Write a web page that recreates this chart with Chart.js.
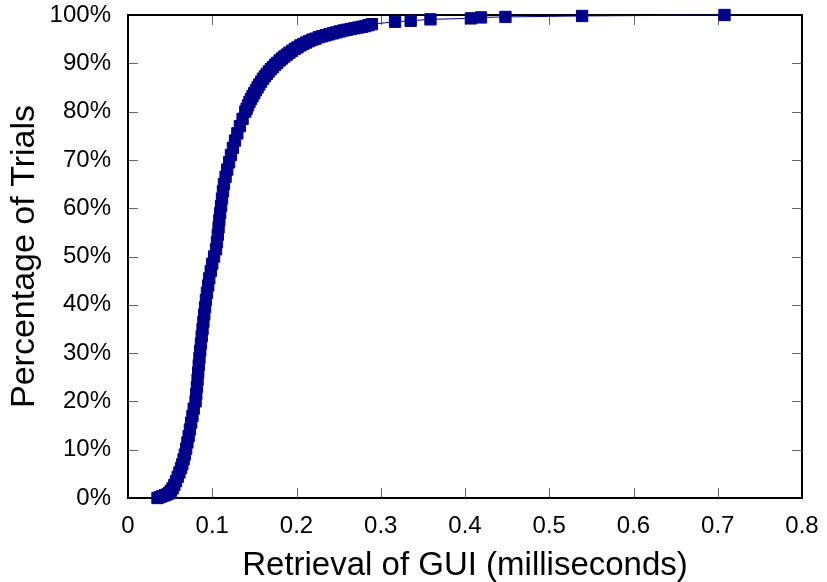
<!DOCTYPE html>
<html>
<head>
<meta charset="utf-8">
<script src="https://cdn.jsdelivr.net/npm/chart.js@4.4.1/dist/chart.umd.min.js"></script>
<style>
  html, body { margin: 0; padding: 0; background: #fff; }
  #wrap { width: 827px; height: 582px; }
</style>
</head>
<body>
<div id="wrap"><canvas id="cdf" width="827" height="582"></canvas></div>
<script>
// Retrieval time in ms (x) and cumulative percentage of trials (y)
const retrievalMs = [
  0.035, 0.038, 0.041, 0.044, 0.047, 0.049, 0.051, 0.053, 0.055, 0.057,
  0.059, 0.061, 0.063, 0.0645, 0.066, 0.0675, 0.069, 0.0705, 0.072, 0.0735,
  0.075, 0.0765, 0.078, 0.0802, 0.081, 0.0818, 0.0826, 0.0833, 0.084, 0.0848,
  0.0857, 0.0866, 0.0875, 0.0885, 0.0895, 0.0905, 0.0915, 0.0925, 0.0937, 0.0952,
  0.0965, 0.0982, 0.1, 0.1022, 0.1045, 0.1056, 0.1066, 0.1075, 0.1084, 0.1094,
  0.1105, 0.1116, 0.1127, 0.1139, 0.1158, 0.1178, 0.12, 0.1222, 0.1245, 0.127,
  0.1298, 0.1328, 0.136, 0.1392, 0.1408, 0.1425, 0.1442, 0.146, 0.1478, 0.1498,
  0.1518, 0.1538, 0.1558, 0.158, 0.1602, 0.1625, 0.1648, 0.1672, 0.1696, 0.172,
  0.1746, 0.1772, 0.18, 0.1828, 0.1856, 0.1886, 0.1916, 0.1948, 0.198, 0.2012,
  0.2046, 0.208, 0.2115, 0.215, 0.2188, 0.2225, 0.2265, 0.2305, 0.2346, 0.2388,
  0.243, 0.2472, 0.2515, 0.2558, 0.26, 0.2645, 0.2688, 0.2732, 0.2775, 0.2815,
  0.2855, 0.2895,
  0.317, 0.3355, 0.359, 0.407, 0.419, 0.448, 0.539, 0.708
];
const trialPct = [
  0, 0.2, 0.4, 0.6, 0.8, 1.1, 1.5, 2.0, 2.7, 3.5,
  4.4, 5.3, 6.2, 7.0, 8.0, 9.0, 10.2, 11.5, 12.8, 14.2,
  15.6, 17.0, 18.5, 20.0, 21.5, 23.0, 24.5, 26.0, 27.5, 29.0,
  30.5, 32.0, 33.5, 35.0, 36.5, 38.0, 39.5, 41.0, 42.5, 44.0,
  45.5, 47.0, 48.5, 50.0, 51.5, 53.0, 54.5, 56.0, 57.5, 59.0,
  60.5, 62.0, 63.5, 65.0, 66.5, 68.0, 69.5, 71.0, 72.5, 74.0,
  75.5, 77.0, 78.5, 80.0, 80.6, 81.3, 82.0, 82.6, 83.2, 83.8,
  84.4, 85.0, 85.6, 86.2, 86.8, 87.3, 87.8, 88.3, 88.8, 89.2,
  89.7, 90.1, 90.6, 91.0, 91.4, 91.8, 92.2, 92.6, 93.0, 93.3,
  93.7, 94.0, 94.3, 94.6, 94.9, 95.1, 95.4, 95.6, 95.8, 96.0,
  96.2, 96.4, 96.6, 96.8, 96.95, 97.1, 97.25, 97.4, 97.55, 97.7,
  97.9, 98.1,
  98.6, 98.8, 99.1, 99.3, 99.5, 99.6, 99.8, 100
];
const xTickLabels = ["0", "0.1", "0.2", "0.3", "0.4", "0.5", "0.6", "0.7", "0.8"];
const yTickLabels = ["0%", "10%", "20%", "30%", "40%", "50%", "60%", "70%", "80%", "90%", "100%"];

const points = retrievalMs.map((x, i) => ({ x: x, y: trialPct[i] }));

// black frame plus inward tick marks on all four sides
const framePlugin = {
  id: "frame",
  beforeDatasetsDraw(chart) {
    const ctx = chart.ctx;
    const a = chart.chartArea;
    const xs = chart.scales.x, ys = chart.scales.y;
    ctx.save();
    ctx.strokeStyle = "#666";
    ctx.lineWidth = 1;
    ctx.beginPath();
    xs.ticks.forEach(t => {
      const px = Math.round(xs.getPixelForValue(t.value)) + 0.5;
      ctx.moveTo(px, a.bottom); ctx.lineTo(px, a.bottom - 10);
      ctx.moveTo(px, a.top); ctx.lineTo(px, a.top + 10);
    });
    ys.ticks.forEach(t => {
      const py = Math.round(ys.getPixelForValue(t.value)) + 0.5;
      ctx.moveTo(a.left, py); ctx.lineTo(a.left + 10, py);
      ctx.moveTo(a.right, py); ctx.lineTo(a.right - 10, py);
    });
    ctx.stroke();
    ctx.strokeStyle = "#000";
    ctx.lineWidth = 2;
    ctx.strokeRect(a.left, a.top, a.right - a.left, a.bottom - a.top);
    ctx.restore();
  }
};

const font = "'Liberation Sans', Arial, Helvetica, sans-serif";

new Chart(document.getElementById("cdf"), {
  type: "scatter",
  data: {
    datasets: [{
      data: points,
      showLine: true,
      borderColor: "#00008b",
      borderWidth: 1,
      backgroundColor: "#00008b",
      pointStyle: "rect",
      pointRadius: 8,
      pointBorderWidth: 1,
      pointBorderColor: "#00008b",
      pointBackgroundColor: "#00008b",
      clip: false
    }]
  },
  options: {
    responsive: false,
    animation: false,
    layout: { padding: { left: 0, right: 25, top: 15, bottom: 0 } },
    plugins: { legend: { display: false }, tooltip: { enabled: false } },
    scales: {
      x: {
        type: "linear",
        min: 0, max: 0.8,
        grid: { display: false, drawTicks: false },
        border: { display: false },
        ticks: {
          stepSize: 0.1,
          padding: 14,
          color: "#000",
          font: { family: font, size: 24 },
          maxRotation: 0,
          callback: (v, i) => xTickLabels[i]
        },
        title: {
          display: true,
          text: "Retrieval of GUI (milliseconds)",
          color: "#000",
          font: { family: font, size: 33, lineHeight: 1 },
          padding: { top: 0, bottom: 0 }
        },
        afterFit(scale) {
          scale.height = 84;
          scale.paddingLeft = 0;
          scale.paddingRight = 0;
        }
      },
      y: {
        min: 0, max: 100,
        grid: { display: false, drawTicks: false },
        border: { display: false },
        ticks: {
          stepSize: 10,
          padding: 17,
          color: "#000",
          font: { family: font, size: 24 },
          callback: (v, i) => yTickLabels[i]
        },
        title: {
          display: true,
          text: "Percentage of Trials",
          color: "#000",
          font: { family: font, size: 34, lineHeight: 1 },
          padding: { top: 8, bottom: 0 }
        },
        afterFit(scale) {
          scale.width = 128;
          scale.paddingTop = 0;
          scale.paddingBottom = 0;
        }
      }
    }
  },
  plugins: [framePlugin]
});
</script>
</body>
</html>
